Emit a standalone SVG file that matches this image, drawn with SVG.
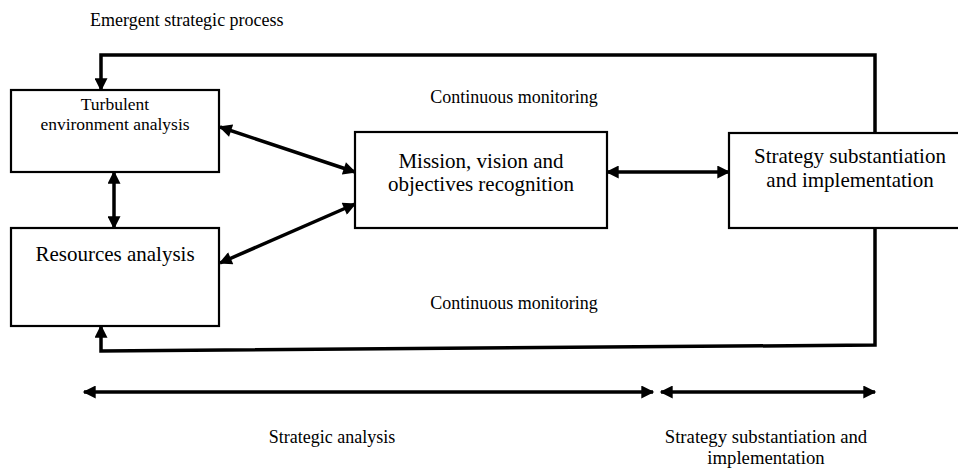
<svg xmlns="http://www.w3.org/2000/svg" width="958" height="472" viewBox="0 0 958 472">
<style>
.box{fill:#fff;stroke:#000;stroke-width:2.2}
.t{font-family:"Liberation Serif","Times New Roman",serif;font-size:18px;fill:#000}
.s{font-size:17.5px}
.n{font-size:21px}
.r{font-size:18.7px}
.m{text-anchor:middle}
.c{fill:none;stroke:#000;stroke-width:3.5;stroke-linejoin:miter}
.e{marker-end:url(#ah)}
.b{marker-start:url(#ah);marker-end:url(#ah)}
</style>
<defs>
<marker id="ah" viewBox="0 0 10 10" refX="9" refY="5" markerWidth="14" markerHeight="13" markerUnits="userSpaceOnUse" orient="auto-start-reverse">
<path d="M0,0 L10,5 L0,10 z" fill="#000"/>
</marker>
</defs>
<rect width="958" height="472" fill="#fff"/>
<g id="connectors">
<path class="c e" d="M875,133 L875,55 L101,55 L101,90"/>
<path class="c e" d="M875,228 L875,345 L101,351 L101,326"/>
<path class="c b" d="M114,172 L114,228"/>
<path class="c b" d="M220,127 L355,172"/>
<path class="c b" d="M220,263 L355,204"/>
<path class="c b" d="M607,172 L729,172"/>
<path class="c b" d="M84,392 L653,392"/>
<path class="c b" d="M661,392 L875,392"/>
</g>
<g id="tea">
<rect class="box" x="11" y="90" width="208" height="82"/>
<text class="t s m" x="115" y="110">Turbulent</text>
<text class="t s m" x="115" y="130">environment analysis</text>
</g>
<g id="resources">
<rect class="box" x="11" y="228" width="208" height="98"/>
<text class="t n m" x="115" y="261">Resources analysis</text>
</g>
<g id="mission">
<rect class="box" x="355" y="132" width="252" height="96"/>
<text class="t n m" x="481" y="168">Mission, vision and</text>
<text class="t n m" x="481" y="191">objectives recognition</text>
</g>
<g id="ssi">
<rect class="box" x="729" y="133" width="235" height="95"/>
<text class="t n m" x="850" y="163">Strategy substantiation</text>
<text class="t n m" x="850" y="187">and implementation</text>
</g>
<g id="labels">
<text class="t" x="90" y="26">Emergent strategic process</text>
<text class="t m" x="514" y="103">Continuous monitoring</text>
<text class="t m" x="514" y="309">Continuous monitoring</text>
<text class="t m" x="332" y="443">Strategic analysis</text>
<text class="t r m" x="766" y="443">Strategy substantiation and</text>
<text class="t r m" x="766" y="464">implementation</text>
</g>
</svg>
